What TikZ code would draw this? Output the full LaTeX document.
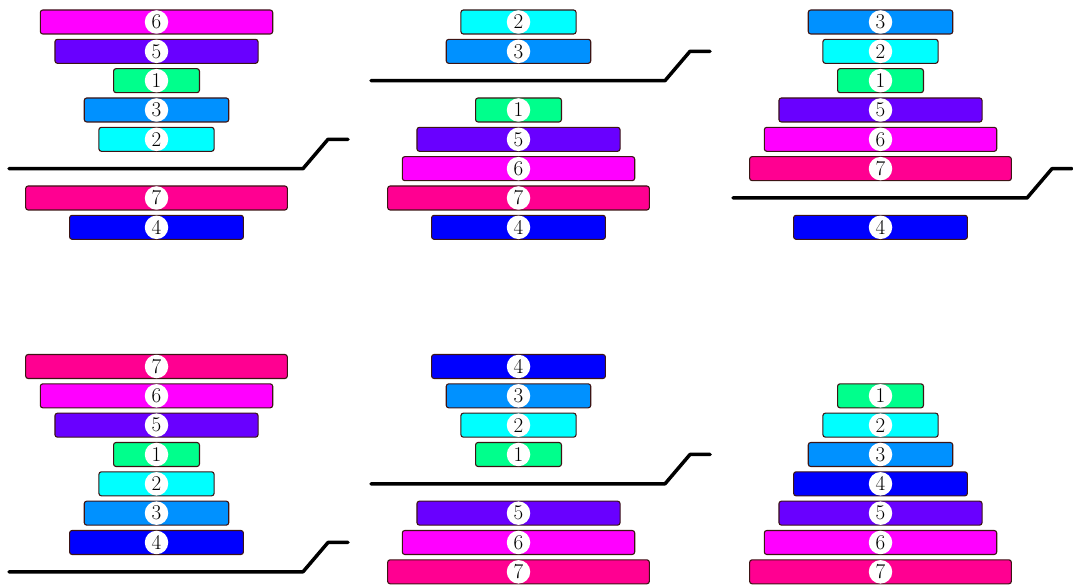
\documentclass[tikz,border=0pt]{standalone}
\definecolor{c1}{RGB}{0,255,140}
\definecolor{c2}{RGB}{0,255,255}
\definecolor{c3}{RGB}{0,145,255}
\definecolor{c4}{RGB}{0,0,255}
\definecolor{c5}{RGB}{105,0,255}
\definecolor{c6}{RGB}{255,0,255}
\definecolor{c7}{RGB}{255,0,145}
\definecolor{edge}{RGB}{60,20,20}
\tikzset{
  disc/.style={draw=edge, line width=1.1pt, rounded corners=2.5pt, minimum height=24pt, inner sep=0pt, outer sep=0pt},
  num/.style={circle, fill=white, inner sep=0pt, minimum size=23.5pt, font=\fontsize{21}{21}\selectfont},
  shelf/.style={line width=3.5pt, line cap=round, line join=round}
}
\newcommand\putdisc[4]{%
  \node[disc, fill=c#4, minimum width={29.3*(#4+2)-2}] (#1) at (#2,{#3}) {};
  \node[num] (#1n) at (#1.center) {#4};
}
\begin{document}
\begin{tikzpicture}[x=1pt,y=-1pt]
\useasboundingbox (0,0) rectangle (1073,585);
\foreach \p/\c/\y/\items/\ls in {
  1/156.5/22/{0/6,1/5,2/1,3/3,4/2,6/7,7/4}/5,
  2/518.5/22/{0/2,1/3,3/1,4/5,5/6,6/7,7/4}/2,
  3/880.5/22/{0/3,1/2,2/1,3/5,4/6,5/7,7/4}/6,
  4/156.5/366.5/{0/7,1/6,2/5,3/1,4/2,5/3,6/4}/7,
  5/518.5/366.5/{0/4,1/3,2/2,3/1,5/5,6/6,7/7}/4}
{
  \foreach \k/\n in \items {\putdisc{p\p d\n}{\c}{\y+29.33*\k}{\n}}
  \coordinate (p\p a) at ({\c-147.5},{\y+29.33*\ls});
  \coordinate (p\p b) at ({\c+146.5},{\y+29.33*\ls});
  \coordinate (p\p c) at ({\c+171.5},{\y+29.33*(\ls-1)});
  \coordinate (p\p e) at ({\c+191.5},{\y+29.33*(\ls-1)});
  \draw[shelf] (p\p a) -- (p\p b) -- (p\p c) -- (p\p e);
}
\foreach \k/\n in {1/1,2/2,3/3,4/4,5/5,6/6,7/7} {\putdisc{p6d\n}{880.5}{366.5+29.33*\k}{\n}}
\end{tikzpicture}
\end{document}
